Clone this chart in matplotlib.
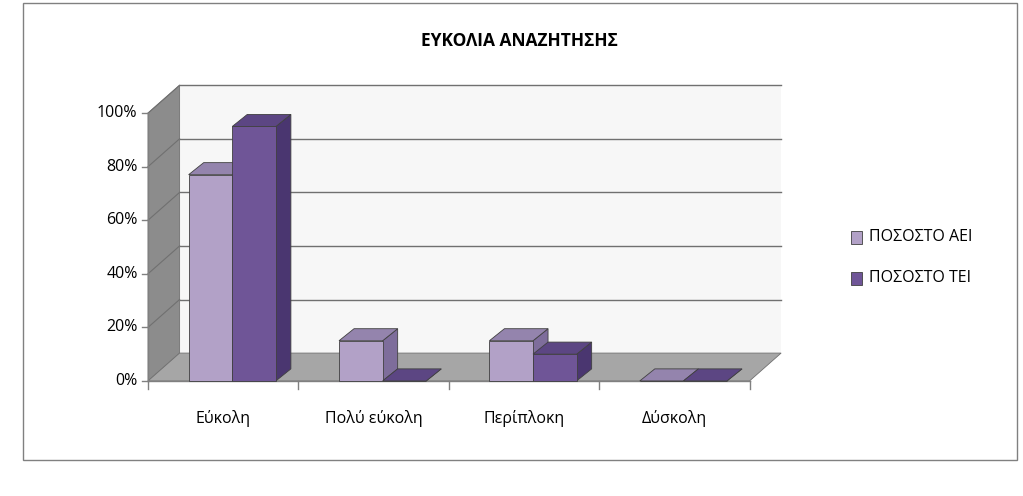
import matplotlib.pyplot as plt
from matplotlib.patches import Polygon, Rectangle

categories = ['Εύκολη', 'Πολύ εύκολη', 'Περίπλοκη', 'Δύσκολη']
aei = [77, 15, 15, 0]
tei = [95, 0, 10, 0]
series = [('ΠΟΣΟΣΤΟ ΑΕΙ', aei, '#b2a1c7', '#9484ad', '#7e6d9b'),
          ('ΠΟΣΟΣΤΟ ΤΕΙ', tei, '#6f5597', '#5c4683', '#4a3670')]

plt.rcParams['font.family'] = ['Open Sans', 'DejaVu Sans']
fig = plt.figure(figsize=(10.23, 4.96), dpi=100)
fig.patches.append(Rectangle((0.022, 0.073), 0.972, 0.92, transform=fig.transFigure,
                             fill=False, edgecolor='#808080', lw=1))
ax = fig.add_axes([0.1447, 0.232, 0.588, 0.540])
ax.set_xlim(0, 4)
ax.set_ylim(0, 100)
ax.axis('off')

dx, dy = 0.21, 10.4      # wall depth
bx, by = 0.10, 4.5       # bar depth
n = len(categories)

def poly(pts, fc, ec='none', z=1, lw=0.6):
    ax.add_patch(Polygon(pts, closed=True, facecolor=fc, edgecolor=ec, lw=lw, zorder=z, clip_on=False))

poly([(dx, dy), (n + dx, dy), (n + dx, 100 + dy), (dx, 100 + dy)], '#f7f7f7', z=0)
poly([(0, 0), (dx, dy), (dx, 100 + dy), (0, 100)], '#8c8c8c', ec='#707070', z=1)
poly([(0, 0), (n, 0), (n + dx, dy), (dx, dy)], '#a6a6a6', ec='#707070', z=1)
for v in range(20, 101, 20):
    ax.plot([dx, n + dx], [v + dy, v + dy], color='#707070', lw=1, zorder=1, clip_on=False)
    ax.plot([0, dx], [v, v + dy], color='#707070', lw=0.8, zorder=1, clip_on=False)

# axes lines and ticks
ax.plot([0, 0], [0, 100], color='#808080', lw=1, zorder=2, clip_on=False)
ax.plot([0, n], [0, 0], color='#808080', lw=1, zorder=2, clip_on=False)
for v in range(0, 101, 20):
    ax.plot([-0.04, 0], [v, v], color='#808080', lw=1, clip_on=False)
    ax.text(-0.07, v, f'{v}%', ha='right', va='center', fontsize=11.5)
for i in range(n + 1):
    ax.plot([i, i], [0, -3], color='#808080', lw=1, clip_on=False)
for i, c in enumerate(categories):
    ax.text(i + 0.5, -14, c, ha='center', va='center', fontsize=11.5)

w = 0.29
for i in range(n):
    for j, (name, vals, front, top, side) in enumerate(series):
        x0 = i + 0.27 + j * w
        h = vals[i]
        z = 3 + i * 2 + j
        poly([(x0 + w, 0), (x0 + w + bx, by), (x0 + w + bx, h + by), (x0 + w, h)], side, '#404040', z)
        poly([(x0, h), (x0 + w, h), (x0 + w + bx, h + by), (x0 + bx, h + by)], top, '#404040', z)
        ax.add_patch(Rectangle((x0, 0), w, h, facecolor=front, edgecolor='#404040', lw=0.6,
                               zorder=z, clip_on=False))

fig.text(0.508, 0.918, 'ΕΥΚΟΛΙΑ ΑΝΑΖΗΤΗΣΗΣ', ha='center', va='center', fontsize=12.5, fontweight='bold')
for j, (name, vals, front, top, side) in enumerate(series):
    yy = 0.522 - j * 0.083
    fig.patches.append(Rectangle((0.832, yy - 0.013), 0.011, 0.026, transform=fig.transFigure,
                                 facecolor=front, edgecolor='#404040', lw=0.6))
    fig.text(0.849, yy, name, ha='left', va='center', fontsize=11.5)

fig.savefig('out.png', dpi=100)
